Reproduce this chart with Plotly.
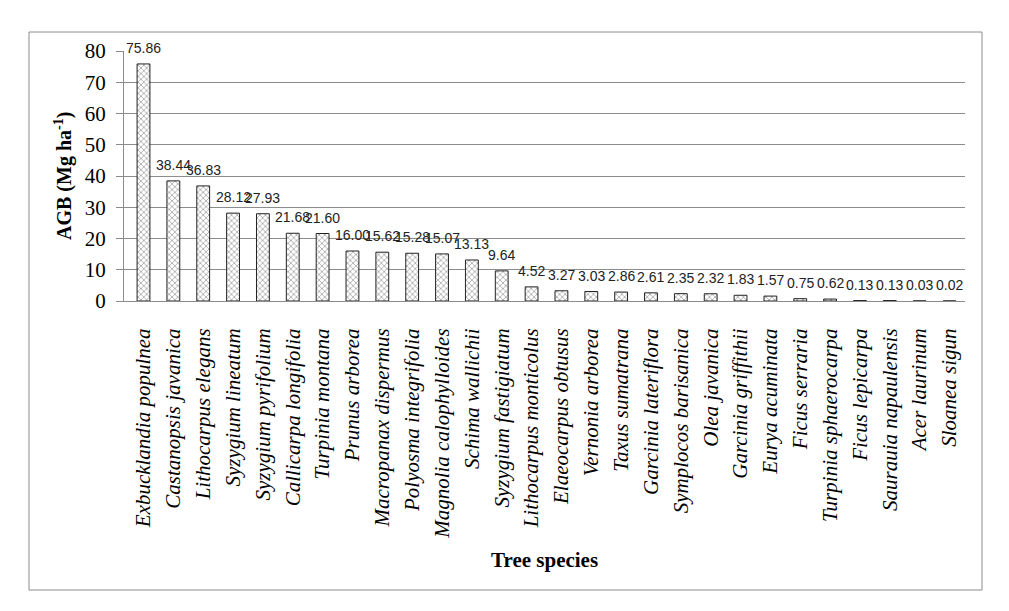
import plotly.graph_objects as go

species = [
    "Exbucklandia populnea", "Castanopsis javanica", "Lithocarpus elegans",
    "Syzygium lineatum", "Syzygium pyrifolium", "Callicarpa longifolia",
    "Turpinia montana", "Prunus arborea", "Macropanax dispermus",
    "Polyosma integrifolia", "Magnolia calophylloides", "Schima wallichii",
    "Syzygium fastigiatum", "Lithocarpus monticolus", "Elaeocarpus obtusus",
    "Vernonia arborea", "Taxus sumatrana", "Garcinia lateriflora",
    "Symplocos barisanica", "Olea javanica", "Garcinia griffithii",
    "Eurya acuminata", "Ficus serraria", "Turpinia sphaerocarpa",
    "Ficus lepicarpa", "Saurauia napaulensis", "Acer laurinum", "Sloanea sigun",
]
agb = [75.86, 38.44, 36.83, 28.12, 27.93, 21.68, 21.60, 16.00, 15.62, 15.28,
       15.07, 13.13, 9.64, 4.52, 3.27, 3.03, 2.86, 2.61, 2.35, 2.32, 1.83,
       1.57, 0.75, 0.62, 0.13, 0.13, 0.03, 0.02]
y_ticks = [0, 10, 20, 30, 40, 50, 60, 70, 80]

W, H = 1009, 611
L, R, T, B = 124, 965, 51, 301
pw, ph = R - L, B - T
SERIF = "Liberation Serif, Times New Roman, serif"

fig = go.Figure()
fig.add_trace(go.Bar(
    x=species, y=agb,
    marker=dict(
        color="white",
        line=dict(color="#222222", width=1),
        pattern=dict(shape="x", size=4, fgcolor="#444444", bgcolor="white", solidity=0.35),
    ),
    hoverinfo="x+y",
))

for s, v in zip(species, agb):
    fig.add_annotation(
        x=s, y=v, xref="x", yref="y", text=f"{v:.2f}", showarrow=False,
        yanchor="bottom", yshift=6,
        font=dict(family="Liberation Sans, Arial, sans-serif", size=14, color="#222222"),
    )

# axis titles
fig.add_annotation(
    x=0.5, y=0, xref="paper", yref="paper", text="<b>Tree species</b>",
    showarrow=False, yanchor="middle", xanchor="center", yshift=-(560 - B),
    font=dict(family=SERIF, size=21, color="black"),
)
fig.add_annotation(
    x=0, y=0.5, xref="paper", yref="paper", text="<b>AGB (Mg ha<sup>-1</sup>)</b>",
    showarrow=False, textangle=-90, xanchor="center", yanchor="middle",
    xshift=-(L - 63),
    font=dict(family=SERIF, size=20, color="black"),
)

# outer border
fig.add_shape(
    type="rect", xref="paper", yref="paper",
    x0=(29 - L) / pw, x1=(982 - L) / pw,
    y0=-(590 - B) / ph, y1=1 + (T - 32) / ph,
    line=dict(color="#8c8c8c", width=1), fillcolor="rgba(0,0,0,0)",
)

fig.update_layout(
    width=W, height=H,
    margin=dict(l=L, r=W - R, t=T, b=H - B, pad=0),
    paper_bgcolor="white", plot_bgcolor="white",
    font=dict(family=SERIF, color="black"),
    bargap=0.57, showlegend=False,
    xaxis=dict(
        tickangle=-90, showline=True, linecolor="#8c8c8c", linewidth=1,
        ticks="", showgrid=False, ticklabelstandoff=18,
        tickfont=dict(family=SERIF, size=21, color="black", style="italic"),
    ),
    yaxis=dict(
        range=[0, 80], tickvals=y_ticks, showgrid=True, gridcolor="#8c8c8c",
        gridwidth=1, showline=True, linecolor="#8c8c8c", linewidth=1,
        ticks="outside", ticklen=7, tickcolor="#8c8c8c", ticklabelstandoff=6,
        zeroline=False,
        tickfont=dict(family=SERIF, size=21, color="black"),
    ),
)

fig.write_html("out.html")
